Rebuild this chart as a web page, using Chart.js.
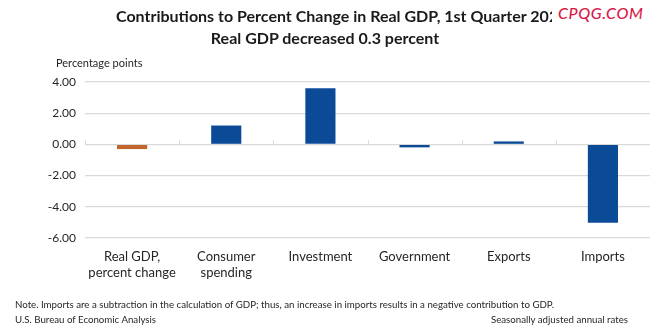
<!DOCTYPE html>
<html>
<head>
<meta charset="utf-8">
<script src="https://cdn.jsdelivr.net/npm/chart.js@4.4.1/dist/chart.umd.min.js"></script>
<style>
  html, body { margin: 0; padding: 0; background: #fff; }
  #wrap { position: relative; width: 650px; height: 335px; overflow: hidden; font-family: Lato, "Open Sans", sans-serif; color: #262626; }
  #c { position: absolute; left: 0; top: 0; }
  .t { position: absolute; white-space: nowrap; }
  #title1 { left: 116px; top: 6px; font-size: 16px; font-weight: bold; color: #1a1a1a; }
  #title2 { left: 0; width: 650px; text-align: center; top: 28px; font-size: 16px; font-weight: bold; color: #1a1a1a; }
  #wm { left: 552px; top: 3px; padding-left: 6px; padding-right: 4px; background: #fff; color: #d81b4a; font-style: italic; font-size: 16px; font-weight: 500; letter-spacing: 0.6px; }
  #ytitle { left: 56px; top: 56px; font-size: 11px; }
  #note { left: 15px; top: 298px; font-size: 9.7px; }
  #src { left: 15px; top: 313px; font-size: 9.7px; }
  #adj { right: 22px; top: 313px; font-size: 9.7px; }
</style>
</head>
<body>
<div id="wrap">
  <canvas id="c" width="650" height="335"></canvas>
  <div class="t" id="title1">Contributions to Percent Change in Real GDP, 1st Quarter 2025</div>
  <div class="t" id="wm">CPQG.COM</div>
  <div class="t" id="title2">Real GDP decreased 0.3 percent</div>
  <div class="t" id="ytitle">Percentage points</div>
  <div class="t" id="note">Note. Imports are a subtraction in the calculation of GDP; thus, an increase in imports results in a negative contribution to GDP.</div>
  <div class="t" id="src">U.S. Bureau of Economic Analysis</div>
  <div class="t" id="adj">Seasonally adjusted annual rates</div>
</div>
<script>
const categories = [["Real GDP,", "percent change"], ["Consumer", "spending"], "Investment", "Government", "Exports", "Imports"];
const contributions = [-0.3, 1.21, 3.6, -0.19, 0.19, -5.03];
const yTicks = [4, 2, 0, -2, -4, -6];

const ORANGE = "#c1672e";
const BLUE = "#0b4a97";
const GRID = "#d9d9d9";

const zeroTicks = {
  id: "zeroTicks",
  afterDatasetsDraw(chart) {
    const x = chart.scales.x, y = chart.scales.y, ctx = chart.ctx;
    const y0 = y.getPixelForValue(0);
    const n = categories.length;
    const step = (x.right - x.left) / n;
    ctx.save();
    ctx.strokeStyle = GRID;
    ctx.lineWidth = 1;
    for (let i = 0; i <= n; i++) {
      const px = Math.round(x.left + i * step) + 0.5;
      ctx.beginPath();
      ctx.moveTo(px, y0);
      ctx.lineTo(px, y0 - 4);
      ctx.stroke();
    }
    ctx.restore();
  }
};

new Chart(document.getElementById("c"), {
  type: "bar",
  data: {
    labels: categories,
    datasets: [{
      data: contributions,
      backgroundColor: contributions.map((v, i) => i === 0 ? ORANGE : BLUE),
      borderWidth: 0,
      barPercentage: 0.32,
      categoryPercentage: 1.0
    }]
  },
  options: {
    responsive: false,
    animation: false,
    devicePixelRatio: 1,
    layout: { padding: { top: 82, left: 0, right: 0, bottom: 0 } },
    plugins: { legend: { display: false }, tooltip: { enabled: false }, title: { display: false } },
    scales: {
      x: {
        grid: { display: false, drawTicks: false },
        border: { display: false },
        ticks: {
          color: "#262626",
          font: { family: "Lato", size: 13, lineHeight: 1.2 },
          padding: 11,
          maxRotation: 0,
          autoSkip: false
        },
        afterFit(scale) { scale.height = 97; }
      },
      y: {
        min: -6, max: 4,
        afterBuildTicks(scale) { scale.ticks = yTicks.map(v => ({ value: v })); },
        grid: { color: GRID, drawTicks: false, lineWidth: 1.2 },
        border: { display: false },
        ticks: {
          color: "#262626",
          font: { family: "Lato", size: 12 },
          padding: 9,
          callback: v => Number(v).toFixed(2)
        },
        afterFit(scale) { scale.width = 85; }
      }
    }
  },
  plugins: [zeroTicks]
});
</script>
</body>
</html>
